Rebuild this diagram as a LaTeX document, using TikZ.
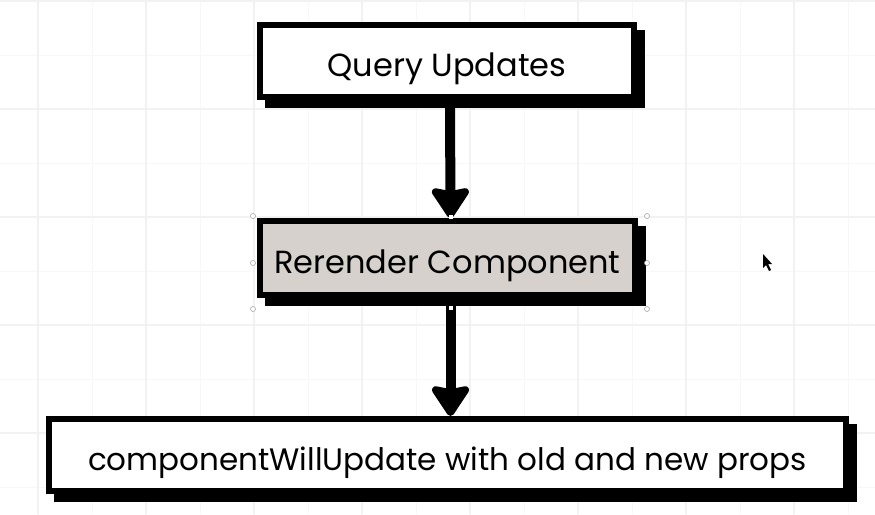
\documentclass[tikz,border=0pt]{standalone}
\usepackage{fontspec}
\setmainfont{Poppins}
\usetikzlibrary{arrows.meta}
\pgfdeclarelayer{bg}
\pgfsetlayers{bg,main}
\definecolor{gridmaj}{RGB}{242,242,242}
\definecolor{gridmin}{RGB}{248,248,248}
\definecolor{selgray}{RGB}{214,209,205}
\tikzset{
  box/.style={draw=black, line width=6pt, fill=white, rectangle, inner sep=0pt,
    font=\fontsize{32}{38}\selectfont, text height=32pt, text depth=2pt},
  arr/.style={line width=10pt, -{Stealth[length=34pt,width=44pt,inset=4pt,round]}},
  handle/.style={circle, draw=gray!70, fill=white, line width=0.6pt, minimum size=5pt, inner sep=0pt},
  endhandle/.style={rectangle, fill=white, minimum size=4pt, inner sep=0pt}
}
\begin{document}
\begin{tikzpicture}[x=1pt,y=-1pt]
\useasboundingbox (0,0) rectangle (875,514);
\begin{pgfonlayer}{bg}
  \fill[white] (0,0) rectangle (875,514);
  \foreach \x in {92,200,308,416,524,632,740,848} \draw[gridmin,line width=1pt] (\x,0) -- (\x,514);
  \foreach \y in {55,163,271,379,487} \draw[gridmin,line width=1pt] (0,\y) -- (875,\y);
  \foreach \x in {38,146,254,362,470,578,686,794} \draw[gridmaj,line width=1.5pt] (\x,0) -- (\x,514);
  \foreach \y in {1,109,217,325,433} \draw[gridmaj,line width=1.5pt] (0,\y) -- (875,\y);
\end{pgfonlayer}

\node[box, minimum width=374pt, minimum height=72pt] (q) at (447,61) {Query Updates};
\node[box, fill=selgray, minimum width=375pt, minimum height=74pt] (r) at (447.5,258) {Rerender Component};
\node[box, font=\fontsize{31}{37}\selectfont, minimum width=797pt, minimum height=72pt] (c) at (447.5,455) {componentWillUpdate with old and new props};

\begin{pgfonlayer}{bg}
  \foreach \n in {q,r,c}
    \fill[black] ([shift={(8,8)}]\n.north west) rectangle ([shift={(8,8)}]\n.south east);
\end{pgfonlayer}

\draw[arr] ([xshift=3pt]q.south) -- ([xshift=3pt]r.north);
\draw[arr] ([xshift=3pt]r.south) -- ([xshift=3pt]c.north);

% selection handles
\node[handle] (h1) at ([shift={(-4,-2)}]r.north west) {};
\node[handle] (h2) at ([shift={(9,-2)}]r.north east) {};
\node[handle] (h3) at ([shift={(-4,5)}]r.west) {};
\node[handle] (h4) at ([shift={(9,5)}]r.east) {};
\node[handle] (h5) at ([shift={(-4,11)}]r.south west) {};
\node[handle] (h6) at ([shift={(9,11)}]r.south east) {};
\node[endhandle] (e1) at ([shift={(3,-1)}]r.north) {};
\node[endhandle] (e2) at ([shift={(3,10)}]r.south) {};

% cursor
\fill[black] (763,254) -- (763,268) -- (766,265) -- (769,271) -- (771,270) -- (768,264) -- (772,264) -- cycle;
\end{tikzpicture}
\end{document}
